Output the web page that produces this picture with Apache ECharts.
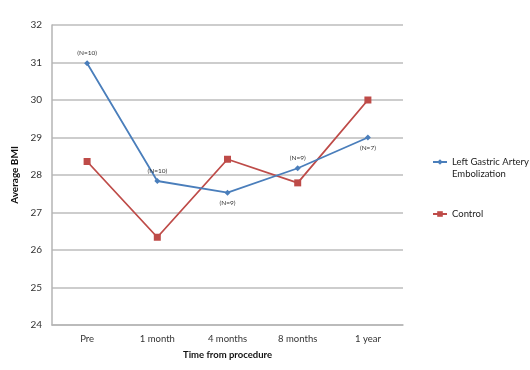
<!DOCTYPE html>
<html>
<head>
<meta charset="utf-8">
<script src="https://cdn.jsdelivr.net/npm/echarts@6/dist/echarts.min.js"></script>
<style>
  html, body, #main { margin: 0; padding: 0; width: 530px; height: 370px; background: #fff; overflow: hidden; }
</style>
</head>
<body>
<div id="main"></div>
<script>
// data
const categories = ["Pre", "1 month", "4 months", "8 months", "1 year"];
const lgaeBmi = [30.98, 27.84, 27.53, 28.18, 29.0];
const controlBmi = [28.36, 26.34, 28.42, 27.79, 30.0];
const nLabels = ["(N=10)", "(N=10)", "(N=9)", "(N=9)", "(N=7)"];
const nLabelPos = ["top", "top", "bottom", "top", "bottom"];

const FONT = "Lato";
const LGAE = "Left Gastric Artery\nEmbolization";

let myChart = echarts.init(document.getElementById("main"));
myChart.setOption({
  animation: false,
  textStyle: { fontFamily: FONT },
  grid: { left: 52, right: 127, top: 25, bottom: 45 },
  legend: {
    orient: "vertical",
    left: 427,
    top: 139,
    itemGap: 28,
    itemWidth: 14,
    itemHeight: 7,
    // blank first line on the two-line name so the icon sits beside its first line
    formatter: (name) => (name.indexOf("\n") >= 0 ? "\n" + name : name),
    textStyle: { fontFamily: FONT, fontSize: 9.5, color: "#222", lineHeight: 12 },
    data: [LGAE, "Control"],
  },
  xAxis: {
    type: "category",
    data: categories,
    name: "Time from procedure",
    nameLocation: "middle",
    nameGap: 25,
    nameTextStyle: { fontFamily: FONT, fontSize: 9.5, fontWeight: "bold", color: "#111" },
    axisLine: { lineStyle: { color: "#b5b5b5", width: 1.5 } },
    axisTick: { show: false },
    axisLabel: { color: "#333", fontSize: 9.5, margin: 9 },
  },
  yAxis: {
    type: "value",
    min: 24,
    max: 32,
    interval: 1,
    name: "Average BMI",
    nameLocation: "middle",
    nameGap: 29,
    nameTextStyle: { fontFamily: FONT, fontSize: 10, fontWeight: "bold", color: "#111" },
    axisLine: { show: true, lineStyle: { color: "#b5b5b5", width: 1.5 } },
    axisTick: { show: false },
    axisLabel: { color: "#333", fontSize: 10, margin: 10 },
    splitLine: { lineStyle: { color: "#bdbdbd", width: 1.5 } },
  },
  series: [
    {
      name: LGAE,
      type: "line",
      data: lgaeBmi.map((v, i) => ({
        value: v,
        label: { show: true, position: nLabelPos[i], formatter: nLabels[i] },
      })),
      symbol: "diamond",
      symbolSize: 6,
      lineStyle: { color: "#4a7ebb", width: 1.8 },
      itemStyle: { color: "#4a7ebb" },
      label: { fontSize: 6.5, color: "#333", distance: 4 },
      z: 3,
    },
    {
      name: "Control",
      type: "line",
      data: controlBmi,
      symbol: "rect",
      symbolSize: 7,
      lineStyle: { color: "#be4b48", width: 1.8 },
      itemStyle: { color: "#be4b48" },
      z: 2,
    },
  ],
});

window.onresize = myChart.resize;
</script>
</body>
</html>
